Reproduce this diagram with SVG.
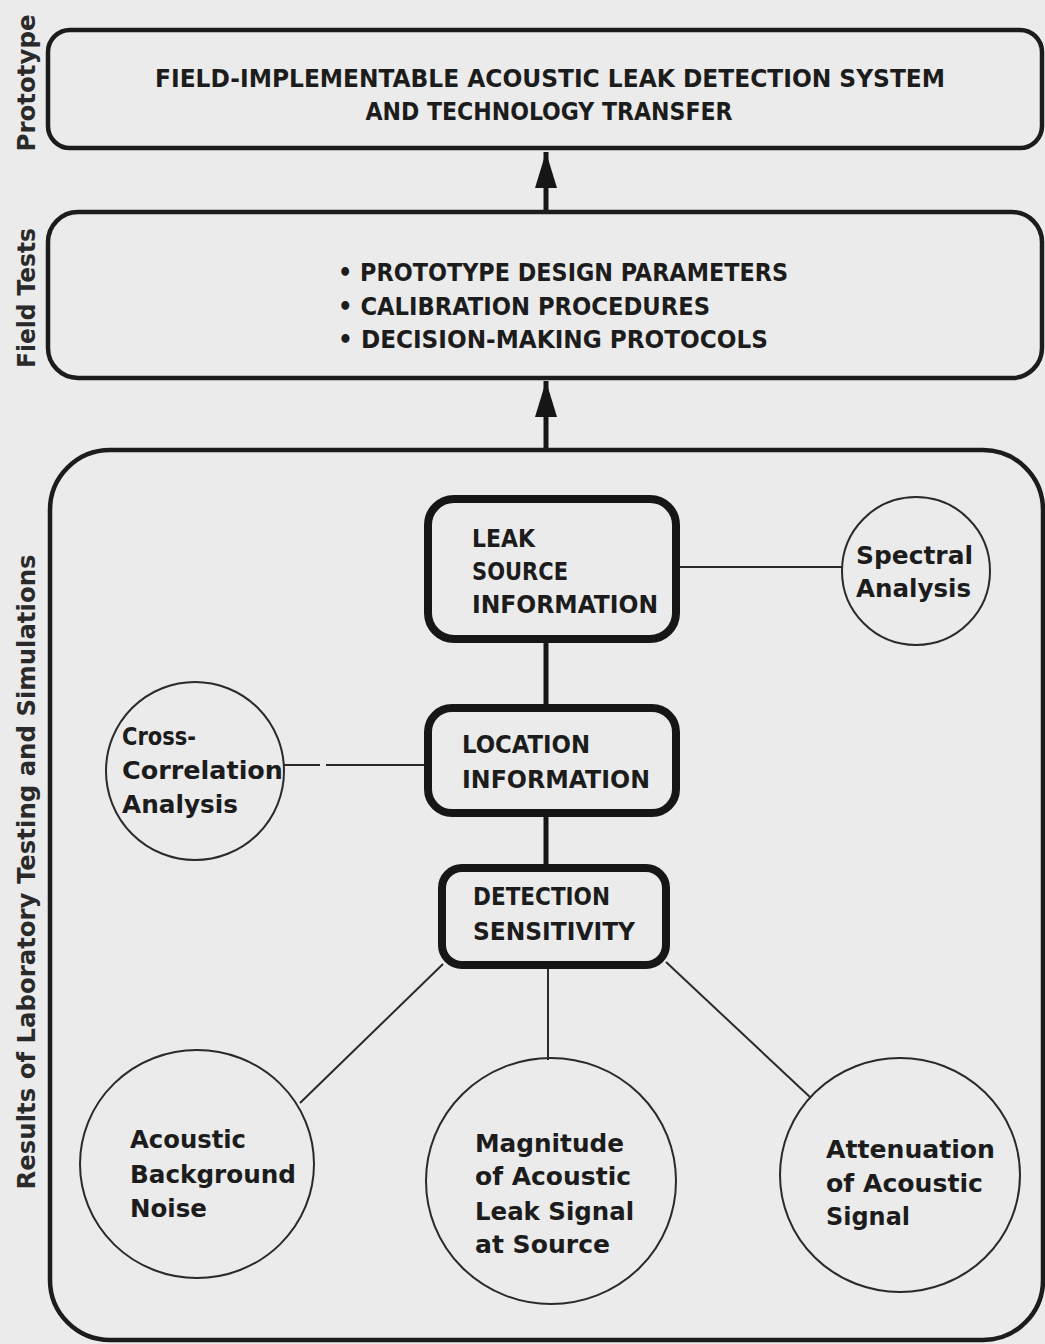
<svg xmlns="http://www.w3.org/2000/svg" width="1045" height="1344" viewBox="0 0 1045 1344">
<style>
.bg{fill:#ebebeb}
.frame{fill:none;stroke:#1c1c1c;stroke-width:4.5}
.hbox{fill:none;stroke:#161616;stroke-width:8}
.circ{fill:none;stroke:#2a2a2a;stroke-width:2}
.thin{stroke:#2a2a2a;stroke-width:2;fill:none}
.thick{stroke:#161616;stroke-width:5;fill:none}
.cap{font-family:"DejaVu Sans Condensed","DejaVu Sans",sans-serif;font-weight:bold;font-size:25px;fill:#1c1c1c}
.mix{font-family:"DejaVu Sans Condensed","DejaVu Sans",sans-serif;font-weight:bold;font-size:25px;fill:#1c1c1c}
.side{font-family:"DejaVu Sans","Open Sans",sans-serif;font-weight:bold;font-size:24px;fill:#2a2a2a}
</style>
<defs>
<marker id="ah" markerUnits="userSpaceOnUse" markerWidth="36" markerHeight="24" refX="36" refY="12" orient="auto" viewBox="0 0 36 24">
<path d="M36 12 L0 1 L0 23 Z" fill="#161616"/>
</marker>
</defs>
<rect class="bg" x="0" y="0" width="1045" height="1344"/>

<g id="side-labels">
<text class="side" transform="translate(35,83) rotate(-90)" text-anchor="middle" textLength="137" lengthAdjust="spacingAndGlyphs">Prototype</text>
<text class="side" transform="translate(35,298) rotate(-90)" text-anchor="middle" textLength="140" lengthAdjust="spacingAndGlyphs">Field Tests</text>
<text class="side" transform="translate(35,872) rotate(-90)" text-anchor="middle" textLength="635" lengthAdjust="spacingAndGlyphs">Results of Laboratory Testing and Simulations</text>
</g>

<g id="connectors">
<line class="thick" x1="546" y1="212" x2="546" y2="152" marker-end="url(#ah)"/>
<line class="thick" x1="546" y1="450" x2="546" y2="381" marker-end="url(#ah)"/>
<line class="thick" x1="546" y1="640" x2="546" y2="706"/>
<line class="thick" x1="546" y1="815" x2="546" y2="866"/>
<line class="thin" x1="678" y1="567" x2="842" y2="567"/>
<line class="thin" x1="283" y1="765" x2="320" y2="765"/>
<line class="thin" x1="326" y1="765" x2="426" y2="765"/>
<line class="thin" x1="443" y1="964" x2="300" y2="1103"/>
<line class="thin" x1="548" y1="967" x2="548" y2="1060"/>
<line class="thin" x1="666" y1="962" x2="811" y2="1098"/>
</g>

<g id="prototype">
<rect class="frame" x="48" y="30" width="994" height="118" rx="22"/>
<text class="cap" x="550" y="87" text-anchor="middle" textLength="790" lengthAdjust="spacingAndGlyphs">FIELD-IMPLEMENTABLE ACOUSTIC LEAK DETECTION SYSTEM</text>
<text class="cap" x="549" y="120" text-anchor="middle" textLength="367" lengthAdjust="spacingAndGlyphs">AND TECHNOLOGY TRANSFER</text>
</g>

<g id="field-tests">
<rect class="frame" x="48" y="212" width="994" height="166" rx="30"/>
<text class="cap" x="338" y="281" textLength="450" lengthAdjust="spacingAndGlyphs">• PROTOTYPE DESIGN PARAMETERS</text>
<text class="cap" x="338" y="315" textLength="372" lengthAdjust="spacingAndGlyphs">• CALIBRATION PROCEDURES</text>
<text class="cap" x="338" y="348" textLength="430" lengthAdjust="spacingAndGlyphs">• DECISION-MAKING PROTOCOLS</text>
</g>

<g id="lab-results">
<rect class="frame" x="50" y="450" width="993" height="890" rx="60"/>
</g>

<g id="leak-source">
<rect class="hbox" x="428" y="499" width="248" height="140" rx="26"/>
<text class="cap" x="472" y="547" textLength="63" lengthAdjust="spacingAndGlyphs">LEAK</text>
<text class="cap" x="472" y="580" textLength="96" lengthAdjust="spacingAndGlyphs">SOURCE</text>
<text class="cap" x="472" y="613" textLength="186" lengthAdjust="spacingAndGlyphs">INFORMATION</text>
</g>

<g id="location">
<rect class="hbox" x="428" y="708" width="248" height="105" rx="24"/>
<text class="cap" x="462" y="753" textLength="128" lengthAdjust="spacingAndGlyphs">LOCATION</text>
<text class="cap" x="462" y="788" textLength="188" lengthAdjust="spacingAndGlyphs">INFORMATION</text>
</g>

<g id="detection">
<rect class="hbox" x="442" y="868" width="224" height="97" rx="20"/>
<text class="cap" x="473" y="905" textLength="137" lengthAdjust="spacingAndGlyphs">DETECTION</text>
<text class="cap" x="473" y="940" textLength="162" lengthAdjust="spacingAndGlyphs">SENSITIVITY</text>
</g>

<g id="spectral">
<ellipse class="circ" cx="916" cy="571" rx="74" ry="74"/>
<text class="mix" x="856" y="564" textLength="117" lengthAdjust="spacingAndGlyphs">Spectral</text>
<text class="mix" x="856" y="597" textLength="115" lengthAdjust="spacingAndGlyphs">Analysis</text>
</g>

<g id="cross-correlation">
<ellipse class="circ" cx="195" cy="771" rx="89" ry="89"/>
<text class="mix" x="122" y="745" textLength="74" lengthAdjust="spacingAndGlyphs">Cross-</text>
<text class="mix" x="122" y="779" textLength="161" lengthAdjust="spacingAndGlyphs">Correlation</text>
<text class="mix" x="122" y="813" textLength="116" lengthAdjust="spacingAndGlyphs">Analysis</text>
</g>

<g id="background-noise">
<ellipse class="circ" cx="197" cy="1164" rx="117" ry="114"/>
<text class="mix" x="130" y="1148" textLength="116" lengthAdjust="spacingAndGlyphs">Acoustic</text>
<text class="mix" x="130" y="1183" textLength="166" lengthAdjust="spacingAndGlyphs">Background</text>
<text class="mix" x="130" y="1217" textLength="77" lengthAdjust="spacingAndGlyphs">Noise</text>
</g>

<g id="magnitude">
<ellipse class="circ" cx="551" cy="1181" rx="125" ry="123"/>
<text class="mix" x="475" y="1152" textLength="149" lengthAdjust="spacingAndGlyphs">Magnitude</text>
<text class="mix" x="475" y="1185" textLength="156" lengthAdjust="spacingAndGlyphs">of Acoustic</text>
<text class="mix" x="475" y="1220" textLength="159" lengthAdjust="spacingAndGlyphs">Leak Signal</text>
<text class="mix" x="475" y="1253" textLength="135" lengthAdjust="spacingAndGlyphs">at Source</text>
</g>

<g id="attenuation">
<ellipse class="circ" cx="900" cy="1175" rx="120" ry="117"/>
<text class="mix" x="826" y="1158" textLength="169" lengthAdjust="spacingAndGlyphs">Attenuation</text>
<text class="mix" x="826" y="1192" textLength="157" lengthAdjust="spacingAndGlyphs">of Acoustic</text>
<text class="mix" x="826" y="1225" textLength="84" lengthAdjust="spacingAndGlyphs">Signal</text>
</g>
</svg>
